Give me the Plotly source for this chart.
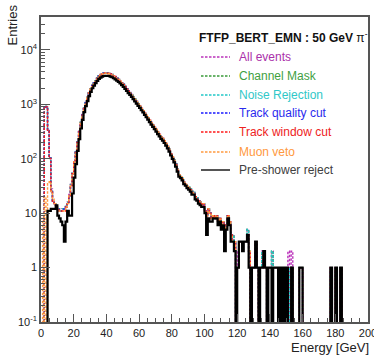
import plotly.graph_objects as go

# 1 GeV bins from 0 to 200 GeV; counts listed per bin (trailing empty bins omitted)
n_bins = 200
x_ticks = [0, 20, 40, 60, 80, 100, 120, 140, 160, 180, 200]

all_events = [
    0, 0, 880, 920, 330, 105, 28, 17, 15, 13,
    12, 12, 11, 12, 12, 14, 16, 22, 34, 55,
    90, 135, 205, 320, 470, 650, 860, 1080, 1350, 1650,
    1950, 2250, 2480, 2700, 3050, 3350, 3550, 3700, 3780, 3830,
    3800, 3760, 3680, 3550, 3400, 3250, 3050, 2900, 2700, 2500,
    2350, 2150, 1950, 1780, 1650, 1520, 1380, 1250, 1140, 1030,
    950, 860, 780, 700, 640, 580, 520, 470, 425, 385,
    350, 315, 285, 255, 240, 215, 195, 170, 150, 125,
    110, 95, 80, 65, 52, 48, 44, 38, 35, 32,
    30, 28, 25, 24, 20, 19, 17, 16, 14, 15,
    11, 9, 12, 10, 8, 9, 8, 9, 7, 8,
    6, 7, 5, 6, 9, 7, 4, 4, 3, 0,
    2, 3, 3, 3, 3, 3, 5, 2, 0, 1,
    1, 3, 1, 0, 1, 2, 2, 1, 1, 1,
    1, 2, 1, 1, 1, 0, 1, 0, 1, 0,
    1, 2, 0, 2, 0, 0, 0, 0, 1, 1,
    0, 0, 0, 0, 0, 0, 0, 0, 0, 0,
    0, 0, 0, 0, 0, 0, 0, 1, 0, 0,
    1, 0, 0, 1,
]

channel_mask = [
    0, 0, 872, 915, 326, 104, 27, 17, 15, 13,
    12, 11, 11, 12, 12, 14, 16, 21, 33, 54,
    89, 134, 203, 317, 466, 645, 853, 1071, 1340, 1638,
    1936, 2234, 2463, 2683, 3031, 3330, 3529, 3678, 3758, 3808,
    3779, 3739, 3660, 3531, 3382, 3233, 3034, 2885, 2686, 2487,
    2338, 2139, 1940, 1771, 1641, 1512, 1373, 1244, 1134, 1025,
    945, 856, 776, 697, 637, 577, 518, 468, 423, 383,
    348, 313, 284, 254, 239, 214, 194, 169, 149, 124,
    109, 94, 80, 64, 52, 48, 44, 38, 35, 32,
    30, 28, 25, 24, 20, 19, 17, 16, 14, 15,
    11, 9, 12, 10, 8, 9, 8, 9, 7, 8,
    6, 7, 5, 6, 9, 7, 4, 4, 3, 0,
    1, 3, 3, 3, 3, 3, 5, 2, 0, 1,
    1, 3, 1, 0, 1, 2, 2, 1, 1, 1,
    1, 2, 1, 1, 1, 0, 1, 0, 1, 0,
    1, 1, 0, 1, 0, 0, 0, 0, 1, 1,
    0, 0, 0, 0, 0, 0, 0, 0, 0, 0,
    0, 0, 0, 0, 0, 0, 0, 1, 0, 0,
    1, 0, 0, 1,
]

noise_rejection = [
    0, 0, 870, 913, 325, 104, 27, 17, 15, 13,
    12, 11, 11, 12, 12, 14, 16, 21, 33, 54,
    89, 133, 202, 316, 465, 644, 852, 1069, 1338, 1636,
    1934, 2232, 2460, 2680, 3028, 3326, 3525, 3674, 3754, 3804,
    3775, 3735, 3656, 3527, 3378, 3229, 3031, 2882, 2683, 2484,
    2336, 2137, 1938, 1769, 1639, 1510, 1371, 1242, 1133, 1024,
    944, 855, 775, 696, 636, 576, 517, 467, 422, 382,
    348, 313, 284, 254, 239, 214, 194, 169, 149, 124,
    109, 94, 80, 64, 52, 48, 44, 38, 35, 32,
    30, 28, 25, 24, 20, 19, 17, 16, 14, 15,
    11, 9, 12, 10, 8, 9, 8, 9, 7, 8,
    6, 7, 5, 6, 9, 7, 4, 4, 3, 0,
    1, 3, 3, 3, 3, 3, 5, 2, 0, 1,
    1, 3, 1, 0, 1, 2, 2, 1, 1, 1,
    1, 2, 1, 1, 1, 0, 1, 0, 1, 0,
    1, 1, 0, 1, 0, 0, 0, 0, 1, 1,
    0, 0, 0, 0, 0, 0, 0, 0, 0, 0,
    0, 0, 0, 0, 0, 0, 0, 1, 0, 0,
    1, 0, 0, 1,
]

track_quality = [
    0, 0, 865, 905, 322, 102, 26, 16, 15, 13,
    12, 11, 11, 11, 12, 13, 15, 21, 33, 53,
    88, 132, 200, 313, 460, 638, 845, 1060, 1327, 1622,
    1918, 2213, 2440, 2658, 3004, 3300, 3498, 3646, 3726, 3776,
    3747, 3708, 3630, 3502, 3354, 3206, 3009, 2861, 2664, 2466,
    2319, 2121, 1924, 1756, 1627, 1499, 1361, 1233, 1125, 1016,
    937, 848, 769, 690, 631, 572, 513, 464, 419, 380,
    345, 311, 281, 252, 237, 212, 192, 168, 148, 123,
    108, 93, 79, 64, 51, 47, 43, 37, 34, 31,
    29, 27, 24, 23, 20, 18, 17, 16, 14, 15,
    11, 9, 12, 10, 8, 9, 8, 9, 7, 8,
    6, 7, 5, 6, 9, 7, 4, 3, 3, 0,
    1, 3, 3, 3, 3, 3, 4, 2, 0, 1,
    1, 3, 1, 0, 1, 1, 2, 1, 0, 1,
    1, 1, 1, 1, 1, 0, 1, 0, 1, 0,
    1, 0, 0, 1, 0, 0, 0, 0, 1, 1,
    0, 0, 0, 0, 0, 0, 0, 0, 0, 0,
    0, 0, 0, 0, 0, 0, 0, 1, 0, 0,
    1, 0, 0, 1,
]

track_window = [
    0, 0, 860, 900, 320, 101, 26, 16, 14, 13,
    12, 11, 11, 11, 11, 13, 15, 21, 32, 53,
    88, 131, 199, 311, 458, 635, 841, 1055, 1321, 1615,
    1910, 2204, 2430, 2647, 2992, 3287, 3484, 3632, 3712, 3762,
    3733, 3694, 3617, 3489, 3342, 3194, 2998, 2851, 2654, 2457,
    2311, 2113, 1917, 1750, 1621, 1494, 1356, 1229, 1121, 1013,
    934, 845, 766, 688, 629, 570, 511, 462, 418, 379,
    345, 311, 281, 252, 237, 212, 192, 168, 148, 123,
    108, 93, 79, 64, 51, 47, 43, 37, 34, 31,
    29, 27, 24, 23, 20, 18, 17, 16, 14, 15,
    11, 9, 12, 10, 8, 9, 8, 9, 7, 8,
    6, 7, 5, 6, 9, 7, 4, 3, 3, 0,
    1, 3, 3, 3, 3, 3, 4, 2, 0, 1,
    1, 3, 1, 0, 1, 1, 2, 1, 0, 1,
    1, 1, 1, 1, 1, 0, 1, 0, 1, 0,
    1, 0, 0, 1, 0, 0, 0, 0, 1, 1,
    0, 0, 0, 0, 0, 0, 0, 0, 0, 0,
    0, 0, 0, 0, 0, 0, 0, 1, 0, 0,
    1, 0, 0, 1,
]

muon_veto = [
    8, 0, 20, 0, 35, 38, 25, 18, 15, 13,
    12, 11, 11, 11, 11, 13, 15, 21, 32, 53,
    87, 131, 198, 310, 456, 633, 838, 1052, 1317, 1610,
    1904, 2198, 2423, 2640, 2984, 3278, 3475, 3623, 3703, 3753,
    3724, 3685, 3608, 3481, 3334, 3187, 2991, 2844, 2648, 2451,
    2306, 2108, 1913, 1746, 1618, 1491, 1353, 1227, 1119, 1011,
    932, 843, 764, 686, 627, 568, 510, 461, 417, 378,
    345, 311, 281, 252, 237, 212, 192, 168, 148, 123,
    108, 93, 79, 64, 51, 47, 43, 37, 34, 31,
    29, 27, 24, 23, 20, 18, 17, 16, 14, 15,
    11, 9, 12, 10, 8, 9, 8, 9, 7, 8,
    6, 7, 5, 6, 9, 7, 4, 3, 3, 0,
    1, 3, 3, 3, 3, 3, 4, 2, 0, 1,
    1, 3, 1, 0, 1, 1, 2, 1, 0, 1,
    1, 1, 1, 1, 1, 0, 1, 0, 1, 0,
    1, 0, 0, 1, 0, 0, 0, 0, 1, 1,
    0, 0, 0, 0, 0, 0, 0, 0, 0, 0,
    0, 0, 0, 0, 0, 0, 0, 1, 0, 0,
    1, 0, 0, 1,
]

pre_shower = [
    0, 0, 0, 0, 11, 11, 12, 12, 12, 14,
    9, 8, 7, 6, 3, 7, 11, 9, 9, 23,
    45, 80, 140, 230, 360, 520, 720, 930, 1150, 1420,
    1700, 1980, 2220, 2450, 2700, 2950, 3100, 3250, 3320, 3350,
    3350, 3320, 3250, 3150, 3020, 2880, 2720, 2580, 2420, 2250,
    2100, 1930, 1760, 1610, 1490, 1370, 1250, 1130, 1030, 940,
    860, 780, 710, 640, 580, 525, 470, 425, 385, 350,
    315, 285, 258, 232, 215, 195, 175, 155, 135, 115,
    100, 86, 72, 58, 47, 44, 40, 34, 32, 29,
    27, 25, 22, 22, 18, 17, 15, 14, 13, 13,
    10, 4, 8, 7, 7, 8, 8, 8, 6, 7,
    5, 6, 2, 5, 8, 6, 3, 3, 2, 0,
    1, 3, 3, 2, 3, 3, 4, 1, 0, 1,
    1, 3, 1, 0, 1, 1, 2, 1, 0, 1,
    1, 0, 1, 1, 1, 0, 1, 0, 1, 0,
    1, 0, 0, 1, 0, 0, 0, 0, 1, 1,
    0, 0, 0, 0, 0, 0, 0, 0, 0, 0,
    0, 0, 0, 0, 0, 0, 0, 1, 0, 0,
    1, 0, 0, 1,
]

series = [
    ("All events", all_events, "#bb33bb"),
    ("Channel Mask", channel_mask, "#3a9a3a"),
    ("Noise Rejection", noise_rejection, "#22c8c8"),
    ("Track quality cut", track_quality, "#1a1aff"),
    ("Track window cut", track_window, "#ff1a1a"),
    ("Muon veto", muon_veto, "#ff9a40"),
    ("Pre-shower reject", pre_shower, "#000000"),
]
legend_text_colors = ["#aa30aa", "#3f9f3f", "#30c8c8", "#2a2aee", "#ee2222", "#ff9940", "#404040"]

FONT = "Liberation Sans, Arial, Helvetica, sans-serif"
W, H = 374, 359
L, R, T, B = 41, 6, 17, 37

edges = list(range(n_bins + 1))

fig = go.Figure()
for name, vals, color in series:
    counts = vals + [0] * (n_bins - len(vals))
    # empty bins drop below the axis floor like ROOT does on a log scale
    y = [c if c > 0 else 1e-3 for c in counts]
    black = color == "#000000"
    fig.add_trace(go.Scatter(
        x=edges, y=y + [y[-1]],
        mode="lines", line_shape="hv", name=name,
        line=dict(color=color, width=2.2 if black else 1.4,
                  dash="solid" if black else "2.5px,1.5px"),
        showlegend=False, hoverinfo="skip",
    ))

axis_style = dict(
    showline=True, mirror=True, linecolor="#555555", linewidth=1.5,
    ticks="inside", tickcolor="#555555", showgrid=False, zeroline=False,
    automargin=False, ticklabeloverflow="allow",
    tickfont=dict(family=FONT, size=11, color="#222222"),
)

minor_y = [m * 10 ** e for e in range(-1, 5) for m in range(2, 10)]
fig.update_xaxes(range=[0, 200], tickvals=x_ticks, ticklen=8,
                 minor=dict(ticks="inside", dtick=5, tick0=0, ticklen=4, tickcolor="#555555"),
                 **axis_style)
fig.update_yaxes(type="log", range=[-1, 4.606],
                 tickvals=[0.1, 1, 10, 100, 1000, 10000],
                 ticktext=["10<sup>-1</sup>", "1", "10", "10<sup>2</sup>", "10<sup>3</sup>", "10<sup>4</sup>"],
                 ticklen=9,
                 minor=dict(ticks="inside", tickvals=minor_y, ticklen=4.5, tickcolor="#555555"),
                 **axis_style)

pw, ph = W - L - R, H - T - B
def px2x(px):
    return (px - L) / pw
def py2y(py):
    return (H - B - py) / ph

annotations = [
    dict(text="Entries", textangle=-90, x=px2x(12), y=py2y(3), xanchor="center", yanchor="top",
         font=dict(family=FONT, size=13, color="#222222")),
    dict(text="Energy [GeV]", x=px2x(371), y=py2y(347), xanchor="right", yanchor="middle",
         font=dict(family=FONT, size=13, color="#222222")),
    dict(text="<b>FTFP_BERT_EMN : 50 GeV</b> π<sup>-</sup>", x=px2x(197), y=py2y(37),
         xanchor="left", yanchor="middle", font=dict(family=FONT, size=12, color="#111111")),
]
shapes = []
entry_py = [57, 76, 95, 113, 132, 152, 170]
for (name, vals, color), tcol, py in zip(series, legend_text_colors, entry_py):
    black = color == "#000000"
    shapes.append(dict(type="line", xref="paper", yref="paper",
                       x0=px2x(201), x1=px2x(230), y0=py2y(py), y1=py2y(py),
                       line=dict(color="#555555" if black else color, width=2 if black else 1.3,
                                 dash="solid" if black else "2.5px,1.5px")))
    annotations.append(dict(text=name, x=px2x(237), y=py2y(py), xanchor="left", yanchor="middle",
                            font=dict(family=FONT, size=12, color=tcol)))

for a in annotations:
    a.update(xref="paper", yref="paper", showarrow=False)

fig.update_layout(
    width=W, height=H,
    margin=dict(l=L, r=R, t=T, b=B),
    paper_bgcolor="white", plot_bgcolor="white",
    annotations=annotations, shapes=shapes,
    showlegend=False,
)

# drop the browser's default body margin so the figure sits at the page corner
fig.write_html("out.html", config={"displayModeBar": False},
               post_script="document.body.style.margin='0';")
